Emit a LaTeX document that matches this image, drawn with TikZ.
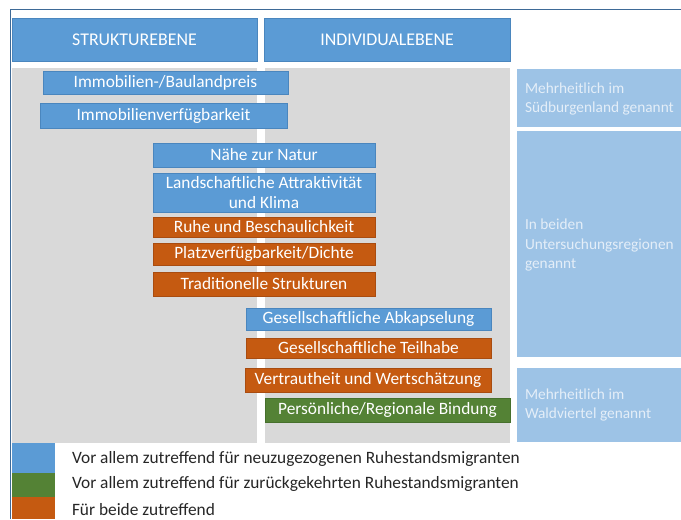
\documentclass[tikz,border=0pt]{standalone}
\usepackage{fontspec}
\setmainfont{Carlito}
\definecolor{hblue}{HTML}{5B9BD5}
\definecolor{hblueb}{HTML}{4A86BE}
\definecolor{lblue}{HTML}{9DC3E6}
\definecolor{ltext}{HTML}{E4EEF8}
\definecolor{orng}{HTML}{C55A11}
\definecolor{orngb}{HTML}{A94C10}
\definecolor{grn}{HTML}{548235}
\definecolor{grnb}{HTML}{46702C}
\definecolor{gpanel}{HTML}{D9D9D9}
\definecolor{frame}{HTML}{3E6A97}
\definecolor{legtext}{HTML}{262626}
\newcommand\bx[7]{\node[#6, anchor=north west, minimum width={(#4-#2)*0.75pt}, minimum height={(#5-#3)*0.75pt}] (#1) at (#2,#3) {#7};}
\begin{document}
\begin{tikzpicture}[x=0.75pt,y=-0.75pt,
  every node/.style={inner sep=0pt, outer sep=0pt},
  panel/.style={fill=gpanel, draw=none},
  head/.style={fill=hblue, draw=hblueb, line width=0.6pt, text=white, font=\fontsize{13.4}{16}\selectfont},
  bluebox/.style={fill=hblue, draw=hblueb, line width=0.6pt, text=white, align=center, font=\fontsize{13}{15}\selectfont},
  orangebox/.style={fill=orng, draw=orngb, line width=0.6pt, text=white, align=center, font=\fontsize{13}{15}\selectfont},
  greenbox/.style={fill=grn, draw=grnb, line width=0.6pt, text=white, align=center, font=\fontsize{13}{15}\selectfont},
  regbox/.style={fill=lblue, draw=none},
  regtext/.style={text=ltext, align=left, anchor=west, font=\fontsize{11.5}{14.5}\selectfont},
  swatch/.style={draw=none},
  legend/.style={text=legtext, anchor=west, font=\fontsize{13}{15}\selectfont}]
\useasboundingbox (0,0) rectangle (681,519);
\fill[white] (0,0) rectangle (681,519);
% frame
\draw[frame, line width=1pt] (10.5,519) -- (10.5,9.5) -- (681,9.5);
% headers
\bx{hs}{12}{18}{257}{61}{head}{STRUKTUREBENE}
\bx{hi}{264}{18}{510}{61}{head}{INDIVIDUALEBENE}
% panels
\bx{pl}{12}{68}{257}{443}{panel}{}
\bx{pr}{265}{68}{510}{443}{panel}{}
% region boxes
\bx{r1}{517}{69}{681}{127}{regbox}{}
\bx{r2}{517}{131}{681}{357}{regbox}{}
\bx{r3}{517}{368}{681}{442}{regbox}{}
\node[regtext] (t1) at (525,99) {Mehrheitlich im\\Südburgenland genannt};
\node[regtext] (t2) at (525,245) {In beiden\\Untersuchungsregionen\\genannt};
\node[regtext] (t3) at (525,405) {Mehrheitlich im\\Waldviertel genannt};
% factor boxes
\bx{b1}{43}{71}{288}{94}{bluebox}{Immobilien-/Baulandpreis}
\bx{b2}{40}{103}{287}{128}{bluebox}{Immobilienverfügbarkeit}
\bx{b3}{153}{143}{375}{167}{bluebox}{Nähe zur Natur}
\bx{b4}{153}{173}{375}{212}{bluebox}{Landschaftliche Attraktivität\\und Klima}
\bx{b5}{153}{217}{375}{237}{orangebox}{Ruhe und Beschaulichkeit}
\bx{b6}{153}{243}{375}{265}{orangebox}{Platzverfügbarkeit/Dichte}
\bx{b7}{153}{272}{375}{296}{orangebox}{Traditionelle Strukturen}
\bx{b8}{246}{308}{491}{330}{bluebox}{Gesellschaftliche Abkapselung}
\bx{b9}{246}{338}{491}{358}{orangebox}{Gesellschaftliche Teilhabe}
\bx{b10}{245}{368}{491}{392}{orangebox}{Vertrautheit und Wertschätzung}
\bx{b11}{265}{398}{510}{422}{greenbox}{Persönliche/Regionale Bindung}
% legend
\bx{s1}{12}{443}{55}{473}{swatch, fill=hblue}{}
\bx{s2}{12}{473}{55}{497}{swatch, fill=grn}{}
\bx{s3}{12}{497}{55}{519}{swatch, fill=orng}{}
\node[legend] (l1) at (72,459) {Vor allem zutreffend für neuzugezogenen Ruhestandsmigranten};
\node[legend] (l2) at (72,484) {Vor allem zutreffend für zurückgekehrten Ruhestandsmigranten};
\node[legend] (l3) at (72,510) {Für beide zutreffend};
\end{tikzpicture}
\end{document}
